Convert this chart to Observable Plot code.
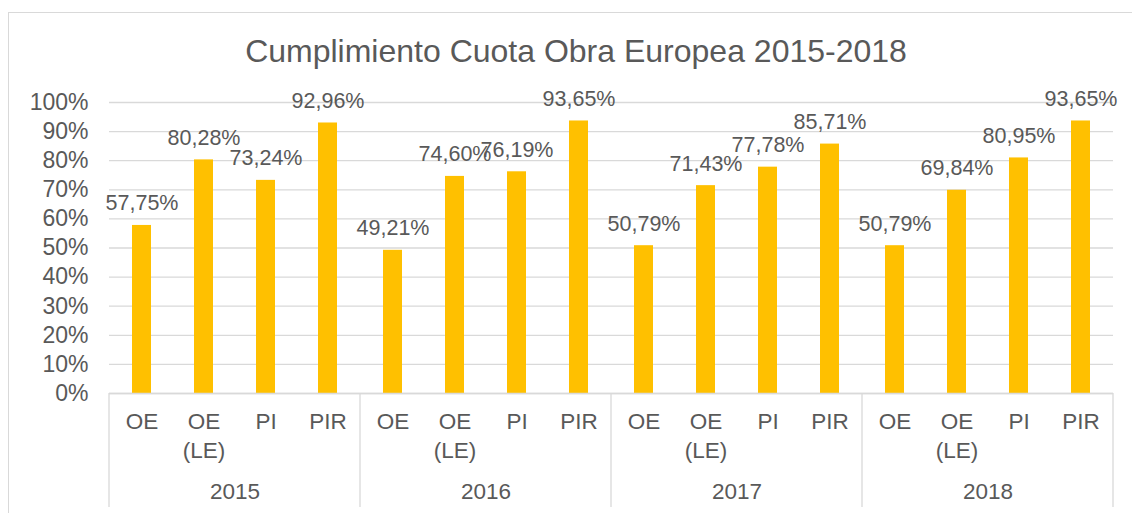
<!DOCTYPE html>
<html><head><meta charset="utf-8">
<script src="https://cdn.jsdelivr.net/npm/d3@7"></script>
<script src="https://cdn.jsdelivr.net/npm/@observablehq/plot@0.6"></script>
<style>
html,body{margin:0;padding:0;background:#fff;overflow:hidden;width:1132px;height:513px}
#frame{position:absolute;left:8px;top:12px;width:1200px;height:600px;border:1px solid #d9d9d9;box-sizing:border-box}
#title{position:absolute;top:35px;left:576px;transform:translateX(-50%);font-family:"Liberation Sans",Arial,sans-serif;font-size:32px;line-height:1;color:#595959;white-space:nowrap}
#chart{position:absolute;left:0;top:70px}
</style></head><body>
<div id="frame"></div>
<div id="title">Cumplimiento Cuota Obra Europea 2015-2018</div>
<div id="chart"></div>
<script>
const years = ["2015", "2016", "2017", "2018"];
const categories = ["OE", "OE (LE)", "PI", "PIR"];
const values2015 = [57.75, 80.28, 73.24, 92.96];
const values2016 = [49.21, 74.60, 76.19, 93.65];
const values2017 = [50.79, 71.43, 77.78, 85.71];
const values2018 = [50.79, 69.84, 80.95, 93.65];
const yTicks = [0, 0.1, 0.2, 0.3, 0.4, 0.5, 0.6, 0.7, 0.8, 0.9, 1];

const series = [values2015, values2016, values2017, values2018];
const rows = years.flatMap((yr, i) => categories.map((c, j) => ({year: yr, cat: c, value: series[i][j] / 100})));

const textColor = "#595959";
const gridColor = "#d9d9d9";
const fmtLabel = v => (v * 100).toFixed(2).replace(".", ",") + "%";

const plot = Plot.plot({
  width: 1132,
  height: 443,
  marginLeft: 108,
  marginRight: 19,
  marginTop: 32,
  marginBottom: 120,
  style: {fontFamily: '"Liberation Sans", Arial, sans-serif', fontSize: "22px", color: textColor, background: "transparent"},
  fx: {domain: years, padding: 0, label: null},
  x: {domain: categories, paddingInner: 0.69, paddingOuter: 0.345, label: null},
  y: {domain: [0, 1], label: null},
  marks: [
    Plot.gridY(yTicks, {stroke: gridColor, strokeOpacity: 1, strokeWidth: 1.3}),
    Plot.axisY(yTicks, {tickFormat: d3.format(".0%"), tickSize: 0, tickPadding: 21, fontSize: 23, label: null}),
    Plot.axisX({tickSize: 0, tickPadding: 15, lineHeight: 1.29, fontSize: 22.5, label: null,
      tickFormat: d => d === "OE (LE)" ? "OE\n(LE)" : d}),
    Plot.axisFx({anchor: "bottom", tickSize: 0, tickPadding: 90, fontSize: 22.5, label: null}),
    Plot.barY(rows, {fx: "year", x: "cat", y: "value", fill: "#FFC000"}),
    Plot.ruleY([0], {stroke: gridColor, strokeWidth: 1.3}),
    Plot.text(rows, {fx: "year", x: "cat", y: "value", text: d => fmtLabel(d.value), lineAnchor: "bottom", dy: -15, fill: textColor, fontSize: 21.5})
  ]
});

// group separators below the axis, positioned from Plot's own scales
const fxs = plot.scale("fx");
const ys = plot.scale("y");
const y0 = ys.apply(0);
const bw = fxs.bandwidth ?? fxs.step;
const edges = years.map(v => fxs.apply(v)).concat([fxs.apply(years[years.length - 1]) + bw]);
d3.select(plot).append("g")
  .selectAll("line").data(edges).join("line")
  .attr("x1", d => d).attr("x2", d => d)
  .attr("y1", y0).attr("y2", y0 + 114)
  .attr("stroke", gridColor).attr("stroke-width", 1.3);

document.getElementById("chart").appendChild(plot);
</script>
</body></html>
